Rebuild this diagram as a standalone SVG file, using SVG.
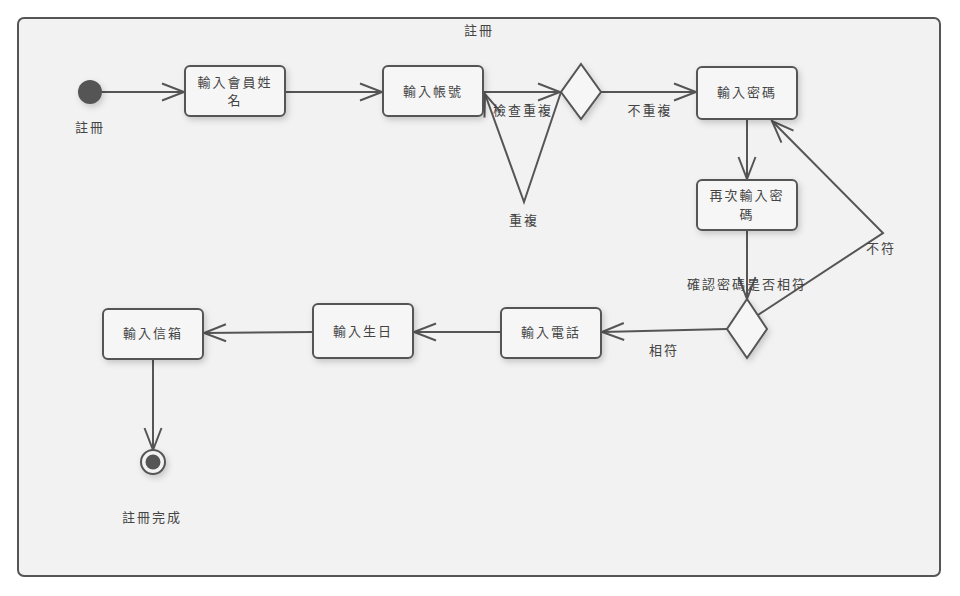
<svg xmlns="http://www.w3.org/2000/svg" width="960" height="596" viewBox="0 0 960 596">
<defs>
<style>
.frame{fill:#f2f2f2;stroke:#555;stroke-width:2}
.node{fill:#f6f6f6;stroke:#555;stroke-width:2;filter:url(#sh)}
.dia{fill:#f6f6f6;stroke:#555;stroke-width:2;filter:url(#sh)}
.edge{fill:none;stroke:#555;stroke-width:2}
text{font-family:"Noto Sans CJK TC","Noto Sans CJK SC",sans-serif;font-size:13px;fill:#444;letter-spacing:2px;text-anchor:middle}
</style>
<filter id="sh" x="-30%" y="-30%" width="160%" height="170%">
<feDropShadow dx="2" dy="3" stdDeviation="3" flood-color="#000" flood-opacity="0.18"/>
</filter>
<marker id="arr" markerUnits="userSpaceOnUse" markerWidth="30" markerHeight="24" refX="0" refY="0" viewBox="-24 -12 30 24" orient="auto" overflow="visible">
<path d="M-22,-8.5 L0,0 L-22,8.5" fill="none" stroke="#555" stroke-width="2"/>
</marker>
</defs>
<rect class="frame" x="18" y="18" width="922" height="558" rx="6"/>
<text x="479" y="35">註冊</text>

<g id="edges">
<line class="edge" x1="102" y1="92" x2="184" y2="92" marker-end="url(#arr)"/>
<line class="edge" x1="285" y1="92" x2="382" y2="92" marker-end="url(#arr)"/>
<line class="edge" x1="483" y1="92" x2="560" y2="92" marker-end="url(#arr)"/>
<polyline class="edge" points="561,92 524,202 485,94" marker-end="url(#arr)"/>
<line class="edge" x1="601" y1="92" x2="696" y2="92" marker-end="url(#arr)"/>
<line class="edge" x1="747" y1="119" x2="747" y2="179" marker-end="url(#arr)"/>
<line class="edge" x1="747" y1="230" x2="747" y2="299" marker-end="url(#arr)"/>
<polyline class="edge" points="758,315 883,233 772,121" marker-end="url(#arr)"/>
<line class="edge" x1="727" y1="329" x2="602" y2="332" marker-end="url(#arr)"/>
<line class="edge" x1="501" y1="332" x2="414" y2="332" marker-end="url(#arr)"/>
<line class="edge" x1="313" y1="332" x2="204" y2="333" marker-end="url(#arr)"/>
<line class="edge" x1="153" y1="358" x2="153" y2="450" marker-end="url(#arr)"/>
<text x="523" y="115">檢查重複</text>
<text x="524" y="225">重複</text>
<text x="650" y="115">不重複</text>
<text x="747" y="289">確認密碼是否相符</text>
<text x="881" y="253">不符</text>
<text x="664" y="355">相符</text>
</g>

<g id="start">
<circle cx="90" cy="92" r="12" fill="#555" filter="url(#sh)"/>
<text x="90" y="132">註冊</text>
</g>
<g id="n-name">
<rect class="node" x="185" y="66" width="100" height="50" rx="5"/>
<text x="235" y="87">輸入會員姓</text>
<text x="235" y="105">名</text>
</g>
<g id="n-account">
<rect class="node" x="383" y="66" width="100" height="50" rx="5"/>
<text x="433" y="96">輸入帳號</text>
</g>
<g id="d-check">
<polygon class="dia" points="581,64 601,92 581,119 561,92"/>
</g>
<g id="n-pwd">
<rect class="node" x="697" y="67" width="100" height="52" rx="5"/>
<text x="747" y="97">輸入密碼</text>
</g>
<g id="n-pwd2">
<rect class="node" x="697" y="180" width="100" height="50" rx="5"/>
<text x="747" y="200">再次輸入密</text>
<text x="747" y="219">碼</text>
</g>
<g id="d-match">
<polygon class="dia" points="747,299 767,329 747,358 727,329"/>
</g>
<g id="n-phone">
<rect class="node" x="501" y="308" width="100" height="50" rx="5"/>
<text x="551" y="337">輸入電話</text>
</g>
<g id="n-birth">
<rect class="node" x="313" y="304" width="100" height="54" rx="5"/>
<text x="363" y="336">輸入生日</text>
</g>
<g id="n-mail">
<rect class="node" x="103" y="309" width="100" height="50" rx="5"/>
<text x="153" y="338">輸入信箱</text>
</g>
<g id="end">
<circle cx="153" cy="462" r="12" fill="#f2f2f2" stroke="#555" stroke-width="2" filter="url(#sh)"/>
<circle cx="153" cy="462" r="7.5" fill="#555"/>
<text x="152" y="522">註冊完成</text>
</g>
</svg>
